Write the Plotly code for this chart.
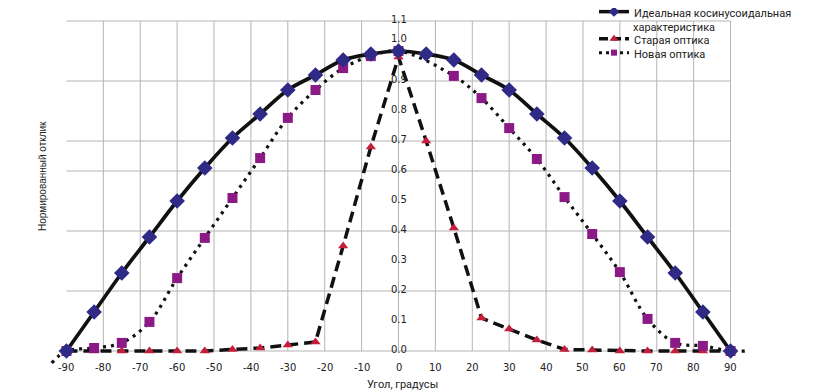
import plotly.graph_objects as go

# ---- data ----
angles = [-90, -82.5, -75, -67.5, -60, -52.5, -45, -37.5, -30, -22.5, -15, -7.5, 0,
          7.5, 15, 22.5, 30, 37.5, 45, 52.5, 60, 67.5, 75, 82.5, 90]
ideal = [0.0, 0.13, 0.26, 0.38, 0.50, 0.61, 0.71, 0.79, 0.87, 0.92, 0.97, 0.99, 1.0,
         0.99, 0.97, 0.92, 0.87, 0.79, 0.71, 0.61, 0.50, 0.38, 0.26, 0.13, 0.0]
old_optics = [0.0, 0.0, 0.0, 0.0, 0.0, 0.0, 0.005, 0.01, 0.02, 0.03, 0.35, 0.68, 0.98,
              0.70, 0.41, 0.11, 0.073, 0.037, 0.005, 0.003, 0.0, 0.0, 0.0, 0.0, 0.0]
new_angles = [-90, -82.5, -75, -67.5, -60, -52.5, -45, -37.5, -30, -22.5, -15, -7.5, 0,
              15, 22.5, 30, 37.5, 45, 52.5, 60, 67.5, 75, 82.5, 90]
new_optics = [0.0, 0.01, 0.027, 0.097, 0.243, 0.377, 0.51, 0.643, 0.777, 0.87, 0.943, 0.983, 1.0,
              0.917, 0.843, 0.743, 0.64, 0.513, 0.39, 0.263, 0.107, 0.027, 0.017, 0.0]
# smoothed curve of new optics runs slightly past the end points
new_curve_angles = [-94] + new_angles + [94]
new_curve_values = [-0.04] + new_optics + [0.0]

x_ticks = [-90, -80, -70, -60, -50, -40, -30, -20, -10, 0, 10, 20, 30, 40, 50, 60, 70, 80, 90]
y_ticks = [0.0, 0.1, 0.2, 0.3, 0.4, 0.5, 0.6, 0.7, 0.8, 0.9, 1.0, 1.1]
y_grid = [0.2, 0.4, 0.6, 0.7, 0.9, 1.1]
x_grid = [-80, -70, -60, -50, -40, -30, -20, -10, 0, 10, 20, 30, 40, 50, 60, 70, 80, 90]

names = ["Идеальная косинусоидальная", "Старая оптика", "Новая оптика"]
name_cont = "характеристика"

C_DIAM = "#2f2a85"
C_TRI = "#c41e3a"
C_SQ = "#8b1a86"
GRID = "#b4b4b4"

# page has an 8px body margin; layout numbers below are in figure pixels
W, H = 827, 392
ML, MR, MT, MB = 40, 86, 0, 30
PW, PH = W - ML - MR, H - MT - MB
PX_PER_UNIT = 300.0
Y_TOP = 1.1 + 13 / PX_PER_UNIT
Y_BOT = Y_TOP - PH / PX_PER_UNIT

fig = go.Figure()

# lines
fig.add_trace(go.Scatter(x=new_curve_angles, y=new_curve_values, mode="lines",
                         line=dict(color="#111", width=3.2, dash="3px,5px", shape="spline", smoothing=1),
                         showlegend=False, hoverinfo="skip"))
fig.add_trace(go.Scatter(x=angles, y=old_optics, mode="lines",
                         line=dict(color="#111", width=3.5, dash="11px,6px"),
                         showlegend=False, hoverinfo="skip"))
fig.add_trace(go.Scatter(x=angles, y=ideal, mode="lines",
                         line=dict(color="#111", width=3.7, shape="spline", smoothing=1),
                         showlegend=False, hoverinfo="skip"))
# markers
fig.add_trace(go.Scatter(x=angles, y=old_optics, mode="markers",
                         marker=dict(symbol="triangle-up", size=9, color=C_TRI),
                         showlegend=False))
fig.add_trace(go.Scatter(x=new_angles, y=new_optics, mode="markers",
                         marker=dict(symbol="square", size=10, color=C_SQ),
                         showlegend=False))
fig.add_trace(go.Scatter(x=angles, y=ideal, mode="markers",
                         marker=dict(symbol="diamond", size=12, color=C_DIAM),
                         showlegend=False))

# legend-only entries, each in its own legend box for exact spacing
fig.add_trace(go.Scatter(x=[None], y=[None], mode="lines+markers", name=names[0], legend="legend",
                         line=dict(color="#111", width=3.5),
                         marker=dict(symbol="diamond", size=8, color=C_DIAM)))
fig.add_trace(go.Scatter(x=[None], y=[None], mode="lines+markers", name=names[1], legend="legend2",
                         line=dict(color="#111", width=3.5, dash="9px,4px"),
                         marker=dict(symbol="triangle-up", size=8, color=C_TRI)))
fig.add_trace(go.Scatter(x=[None], y=[None], mode="lines+markers", name=names[2], legend="legend3",
                         line=dict(color="#111", width=3, dash="3px,4px"),
                         marker=dict(symbol="square", size=6, color=C_SQ)))

shapes = []
for yv in y_grid:
    shapes.append(dict(type="line", xref="x", yref="y", x0=-90, x1=90, y0=yv, y1=yv,
                       line=dict(color=GRID, width=1), layer="below"))
for xv in x_grid:
    shapes.append(dict(type="line", xref="x", yref="y", x0=xv, x1=xv, y0=0, y1=1.1,
                       line=dict(color=GRID, width=1), layer="below"))
shapes.append(dict(type="line", xref="x", yref="y", x0=-90, x1=90, y0=0, y1=0,
                   line=dict(color=GRID, width=1.2), layer="below"))

annotations = []
tick_font = dict(family="DejaVu Sans", size=10, color="#222")
for xv in x_ticks:
    annotations.append(dict(x=xv, y=0, xref="x", yref="y", text=str(xv), showarrow=False,
                            font=tick_font, xanchor="center", yanchor="middle", yshift=-16))
for yv in y_ticks:
    annotations.append(dict(x=0, y=yv, xref="x", yref="y", text=f"{yv:.1f}", showarrow=False,
                            font=tick_font, xanchor="center", yanchor="middle",
                            yshift=13 if abs(yv - 1.0) < 1e-9 else 2))
annotations.append(dict(x=0, y=0, xref="x", yref="y", text="Угол, градусы", showarrow=False,
                        font=dict(family="Roboto", size=11, color="#222"),
                        xanchor="center", yanchor="middle", yshift=-33, xshift=4))
annotations.append(dict(x=(35 - ML) / PW, y=1 - (168 - MT) / PH, xref="paper", yref="paper",
                        text="Нормированный отклик", showarrow=False, textangle=-90,
                        font=dict(family="Liberation Sans", size=10, color="#222"),
                        xanchor="center", yanchor="middle"))

leg_font = dict(family="Roboto", size=11, color="#222")
LEG_X = 586
# second line of the first legend entry
annotations.append(dict(x=(LEG_X + 39 - ML) / PW, y=1 - (19 - MT) / PH, xref="paper", yref="paper",
                        text=name_cont, showarrow=False, font=leg_font, borderpad=0,
                        xanchor="left", yanchor="middle", xshift=-1))

def leg(top_px):
    return dict(x=(LEG_X - ML) / PW, y=1 - (top_px - MT) / PH, xanchor="left", yanchor="top",
                bgcolor="rgba(0,0,0,0)", font=leg_font, valign="top")

fig.update_layout(
    width=W, height=H,
    margin=dict(l=ML, r=MR, t=MT, b=MB, autoexpand=False),
    paper_bgcolor="white", plot_bgcolor="white",
    xaxis=dict(range=[-95, 95], showgrid=False, zeroline=False, showticklabels=False,
               showline=False, ticks="", automargin=False),
    yaxis=dict(range=[Y_BOT, Y_TOP], showgrid=False, zeroline=False, showticklabels=False,
               showline=False, ticks="", automargin=False),
    shapes=shapes,
    annotations=annotations,
    legend=leg(-10),
    legend2=leg(17),
    legend3=leg(31),
)

fig.write_html("out.html")
